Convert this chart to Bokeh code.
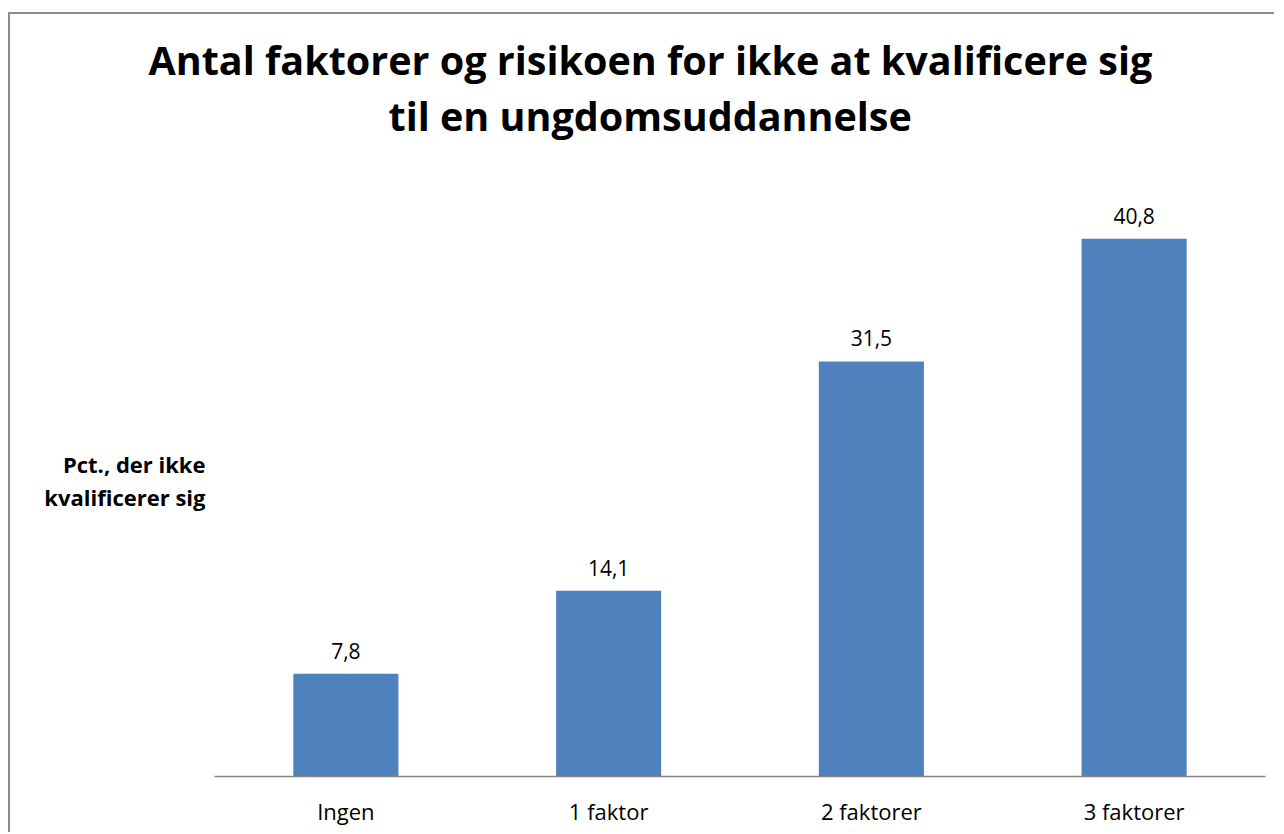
from bokeh.plotting import figure
from bokeh.models import FactorRange, Range1d, Title, ColumnDataSource, FixedTicker
from bokeh.core.properties import value
from bokeh.embed import file_html
from bokeh.resources import INLINE

categories = ["Ingen", "1 faktor", "2 faktorer", "3 faktorer"]
values = [7.8, 14.1, 31.5, 40.8]
labels = [f"{v:.1f}".replace(".", ",") for v in values]
title_lines = ["Antal  faktorer og risikoen for ikke at kvalificere sig",
               "til en ungdomsuddannelse"]
y_label = "Pct., der ikke\nkvalificerer sig"

FONT = "Open Sans"
BAR = "#4F81BD"

src = ColumnDataSource(dict(cat=categories, val=values, lab=labels))

p = figure(x_range=FactorRange(*categories, range_padding=0),
           y_range=Range1d(0, 45),
           width=1266, height=820,
           output_backend="svg", toolbar_location=None,
           min_border_left=204, min_border_right=11,
           min_border_bottom=58, min_border_top=169,
           styles={"border-left": "2px solid #8c8c8c",
                   "border-top": "2px solid #8c8c8c",
                   "margin-top": "12px", "margin-left": "8px"})
p.outline_line_color = None
p.xgrid.grid_line_color = None
p.ygrid.grid_line_color = None
p.background_fill_color = "white"
p.border_fill_color = "white"

p.vbar(x="cat", top="val", width=0.4, source=src, fill_color=BAR, line_color=None)
p.text(x="cat", y="val", text="lab", source=src, y_offset=-15,
       text_align="center", text_baseline="bottom",
       text_font=value(FONT), text_font_size="21px", text_color="black")

# spacer between the frame and the title lines
p.add_layout(Title(text=" ", text_font_size="1px", standoff=38), "above")
# titles (first added sits closest to the frame)
title_offsets = [-66, 174]
for i in (1, 0):
    t = Title(text=title_lines[i], align="left", offset=title_offsets[i],
              text_font=FONT, text_font_size="39.5px", text_font_style="bold",
              text_color="black", standoff=0)
    p.add_layout(t, "above")

xa = p.xaxis[0]
xa.axis_line_color = "#868686"
xa.axis_line_width = 1.5
xa.major_tick_line_color = None
xa.minor_tick_line_color = None
xa.major_label_text_font = FONT
xa.major_label_text_font_size = "22px"
xa.major_label_text_color = "black"
xa.major_label_standoff = 13

ya = p.yaxis[0]
ya.ticker = FixedTicker(ticks=[])
ya.axis_line_color = None
ya.major_tick_line_color = None
ya.minor_tick_line_color = None
ya.axis_label = y_label
ya.axis_label_orientation = "horizontal"
ya.axis_label_text_font = FONT
ya.axis_label_text_font_size = "22px"
ya.axis_label_text_font_style = "bold"
ya.axis_label_text_color = "black"
ya.axis_label_text_align = "center"
ya.axis_label_text_line_height = 1.1
ya.axis_label_standoff = 9

open("out.html", "w").write(file_html(p, INLINE))
